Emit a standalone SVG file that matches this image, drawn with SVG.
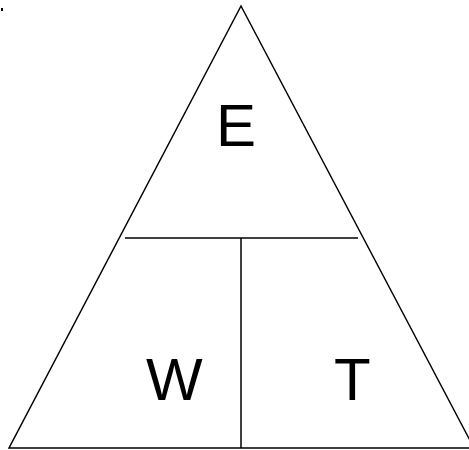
<svg xmlns="http://www.w3.org/2000/svg" width="469" height="450" viewBox="0 0 469 450">
<style>
.ln{stroke:#000;stroke-width:1.5;fill:none}
.lbl{font-family:"Liberation Sans",Arial,sans-serif;font-size:60px;fill:#000}
</style>
<rect width="469" height="450" fill="#fff"/>
<rect x="1" y="8" width="2" height="3" fill="#000"/>
<g id="connectors">
<path class="ln" d="M241,6 L9,448 L474,448 Z"/>
<line class="ln" x1="125" y1="238" x2="358" y2="238"/>
<line class="ln" x1="241" y1="238" x2="241" y2="448"/>
</g>
<g id="node-E"><text class="lbl" x="216" y="146">E</text></g>
<g id="node-W"><text class="lbl" x="146" y="400">W</text></g>
<g id="node-T"><text class="lbl" x="334" y="400">T</text></g>
</svg>
